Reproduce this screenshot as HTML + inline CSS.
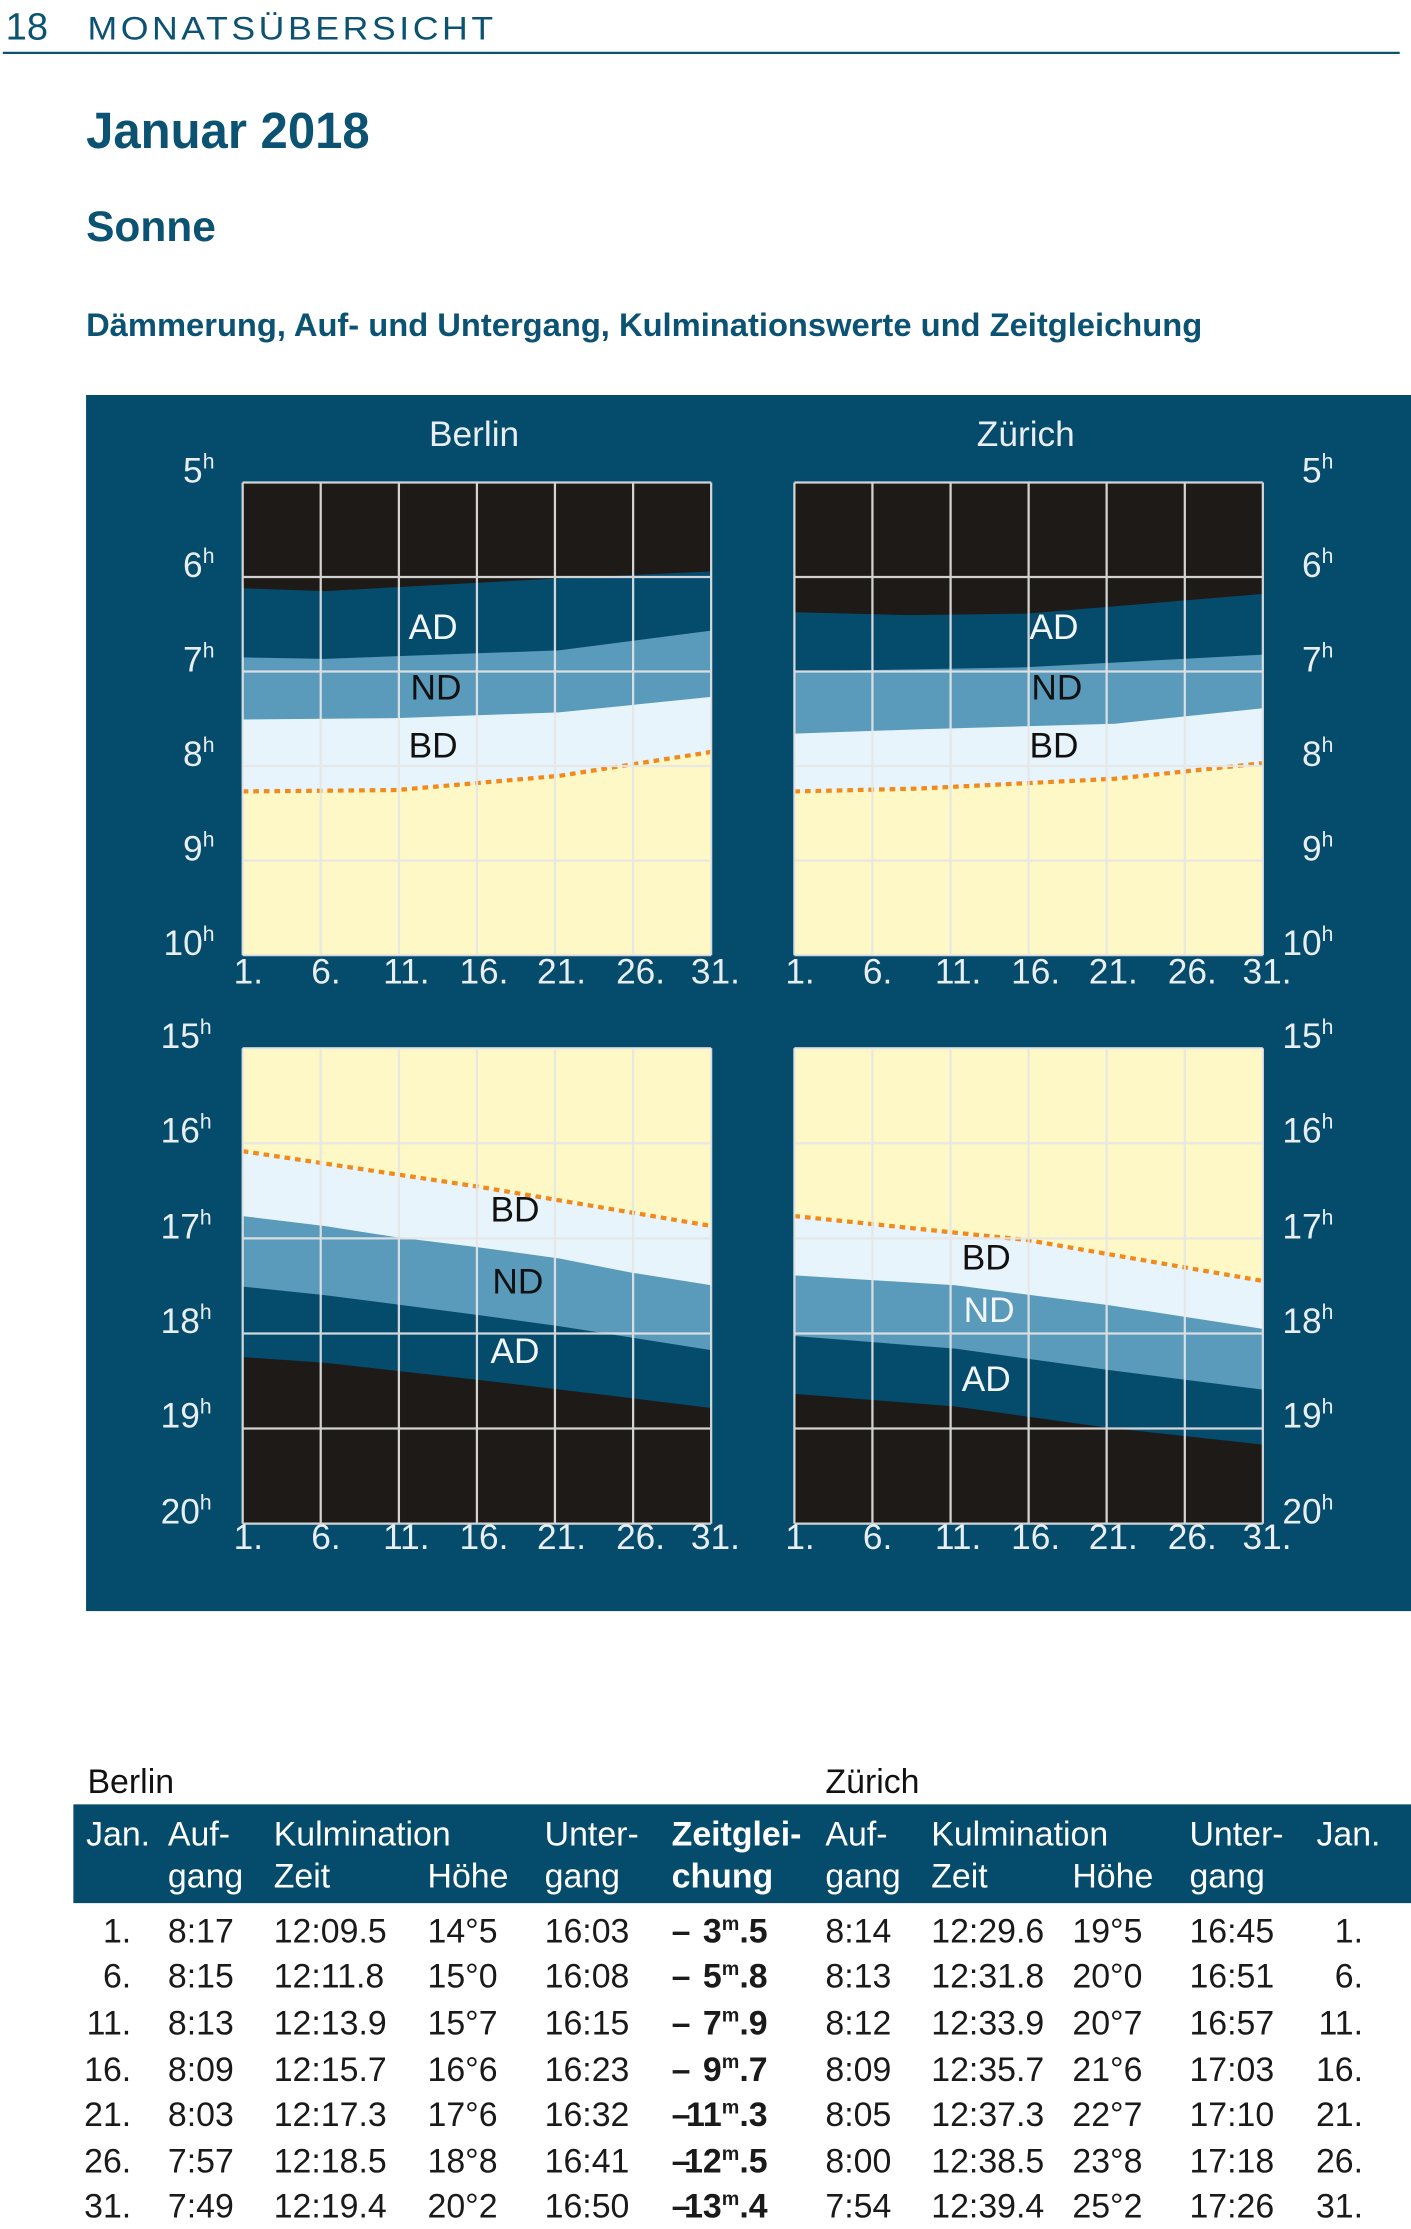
<!DOCTYPE html>
<html><head><meta charset="utf-8"><style>
html,body{margin:0;padding:0;background:#fff;}
svg{display:block;font-family:"Liberation Sans",sans-serif;}
</style></head><body>
<svg width="1411" height="2229" viewBox="0 0 1000 1580" preserveAspectRatio="none" xmlns="http://www.w3.org/2000/svg">
<!-- header -->
<text x="4" y="28" font-size="27" fill="#0b5273">18</text>
<text x="62" y="28" font-size="23" fill="#0b5273" letter-spacing="2.3" textLength="290" lengthAdjust="spacingAndGlyphs">MONATSÜBERSICHT</text>
<line x1="2" y1="37.5" x2="992" y2="37.5" stroke="#0b5273" stroke-width="1.6"/>
<text x="61" y="105" font-size="36" font-weight="bold" fill="#0b5273" textLength="201" lengthAdjust="spacingAndGlyphs">Januar 2018</text>
<text x="61" y="171" font-size="30" font-weight="bold" fill="#0b5273" textLength="92" lengthAdjust="spacingAndGlyphs">Sonne</text>
<text x="61" y="238" font-size="23" font-weight="bold" fill="#0b5273" textLength="791" lengthAdjust="spacingAndGlyphs">Dämmerung, Auf- und Untergang, Kulminationswerte und Zeitgleichung</text>

<!-- panel -->
<rect x="61" y="280" width="939" height="862" fill="#054b6c"/>
<text x="336" y="316" font-size="25" fill="#e8eef2" text-anchor="middle">Berlin</text>
<text x="727" y="316" font-size="25" fill="#e8eef2" text-anchor="middle">Zürich</text>

<!-- Berlin top -->
<rect x="172" y="342" width="332" height="335" fill="#fdf8c6"/>
<polygon fill="#e8f4fb" points="172,342 504,342 504,533 396,550 281,560 172,561"/>
<polygon fill="#5a9abb" points="172,342 504,342 504,494 396,505 281,509 172,510"/>
<polygon fill="#054b6c" points="172,342 504,342 504,447 396,461 230,467 172,466"/>
<polygon fill="#1e1a18" points="172,342 504,342 504,405 396,410 230,419 172,417"/>
<polyline fill="none" stroke="#f08a1c" stroke-width="3" stroke-dasharray="4,3.5" points="172,561 281,560 396,550 504,533"/>
<!-- Zurich top -->
<rect x="563" y="342" width="332" height="335" fill="#fdf8c6"/>
<polygon fill="#e8f4fb" points="563,342 895,342 895,541 790,552 650,559 563,561"/>
<polygon fill="#5a9abb" points="563,342 895,342 895,502 790,513 650,517 563,520"/>
<polygon fill="#054b6c" points="563,342 895,342 895,464 727,473 563,476"/>
<polygon fill="#1e1a18" points="563,342 895,342 895,421 727,435 645,436 563,434"/>
<polyline fill="none" stroke="#f08a1c" stroke-width="3" stroke-dasharray="4,3.5" points="563,561 650,559 790,552 895,541"/>

<!-- Berlin bottom -->
<rect x="172" y="743" width="332" height="337" fill="#1e1a18"/>
<polygon fill="#054b6c" points="172,743 504,743 504,998 447,991 338,978 230,966 172,962"/>
<polygon fill="#5a9abb" points="172,743 504,743 504,957 396,940 338,932 230,918 172,912"/>
<polygon fill="#e8f4fb" points="172,743 504,743 504,911 447,902 396,892 338,884 281,877 230,869 172,862"/>
<polygon fill="#fdf8c6" points="172,743 504,743 504,869 338,841 172,816"/>
<polyline fill="none" stroke="#f08a1c" stroke-width="3" stroke-dasharray="4,3.5" points="172,816 338,841 504,869"/>
<!-- Zurich bottom -->
<rect x="563" y="743" width="332" height="337" fill="#1e1a18"/>
<polygon fill="#054b6c" points="563,743 895,743 895,1024 785,1012 677,997 563,988"/>
<polygon fill="#5a9abb" points="563,743 895,743 895,985 785,971 677,956 563,947"/>
<polygon fill="#e8f4fb" points="563,743 895,743 895,942 785,925 677,911 563,904"/>
<polygon fill="#fdf8c6" points="563,743 895,743 895,908 728,879 563,862"/>
<polyline fill="none" stroke="#f08a1c" stroke-width="3" stroke-dasharray="4,3.5" points="563,862 728,879 895,908"/>

<!-- grids -->
<g stroke="#e6e6e6" stroke-width="1.6" fill="none" opacity="0.9">
<path d="M172,342V677M227.3,342V677M282.7,342V677M338,342V677M393.3,342V677M448.7,342V677M504,342V677"/>
<path d="M563,342V677M618.3,342V677M673.7,342V677M729,342V677M784.3,342V677M839.7,342V677M895,342V677"/>
<path d="M172,342H504M172,409H504M172,476H504M172,543H504M172,610H504M172,677H504"/>
<path d="M563,342H895M563,409H895M563,476H895M563,543H895M563,610H895M563,677H895"/>
<path d="M172,743V1080M227.3,743V1080M282.7,743V1080M338,743V1080M393.3,743V1080M448.7,743V1080M504,743V1080"/>
<path d="M563,743V1080M618.3,743V1080M673.7,743V1080M729,743V1080M784.3,743V1080M839.7,743V1080M895,743V1080"/>
<path d="M172,743H504M172,810.4H504M172,877.8H504M172,945.2H504M172,1012.6H504M172,1080H504"/>
<path d="M563,743H895M563,810.4H895M563,877.8H895M563,945.2H895M563,1012.6H895M563,1080H895"/>
</g>

<!-- band labels -->
<g font-size="25">
<text x="307" y="453" fill="#f2f6f8" text-anchor="middle">AD</text>
<text x="309" y="496" fill="#111" text-anchor="middle">ND</text>
<text x="307" y="537" fill="#111" text-anchor="middle">BD</text>
<text x="747" y="453" fill="#f2f6f8" text-anchor="middle">AD</text>
<text x="749" y="496" fill="#111" text-anchor="middle">ND</text>
<text x="747" y="537" fill="#111" text-anchor="middle">BD</text>
<text x="365" y="866" fill="#111" text-anchor="middle">BD</text>
<text x="367" y="917" fill="#111" text-anchor="middle">ND</text>
<text x="365" y="966" fill="#f2f6f8" text-anchor="middle">AD</text>
<text x="699" y="900" fill="#111" text-anchor="middle">BD</text>
<text x="701" y="937" fill="#f2f6f8" text-anchor="middle">ND</text>
<text x="699" y="986" fill="#f2f6f8" text-anchor="middle">AD</text>
</g>

<!-- hour labels -->
<g font-size="25" fill="#e8eef2">
<text x="152" y="342" text-anchor="end">5<tspan font-size="15" dy="-10">h</tspan></text>
<text x="152" y="409" text-anchor="end">6<tspan font-size="15" dy="-10">h</tspan></text>
<text x="152" y="476" text-anchor="end">7<tspan font-size="15" dy="-10">h</tspan></text>
<text x="152" y="543" text-anchor="end">8<tspan font-size="15" dy="-10">h</tspan></text>
<text x="152" y="610" text-anchor="end">9<tspan font-size="15" dy="-10">h</tspan></text>
<text x="152" y="677" text-anchor="end">10<tspan font-size="15" dy="-10">h</tspan></text>
<text x="945" y="342" text-anchor="end">5<tspan font-size="15" dy="-10">h</tspan></text>
<text x="945" y="409" text-anchor="end">6<tspan font-size="15" dy="-10">h</tspan></text>
<text x="945" y="476" text-anchor="end">7<tspan font-size="15" dy="-10">h</tspan></text>
<text x="945" y="543" text-anchor="end">8<tspan font-size="15" dy="-10">h</tspan></text>
<text x="945" y="610" text-anchor="end">9<tspan font-size="15" dy="-10">h</tspan></text>
<text x="945" y="677" text-anchor="end">10<tspan font-size="15" dy="-10">h</tspan></text>
<text x="150" y="743" text-anchor="end">15<tspan font-size="15" dy="-10">h</tspan></text>
<text x="150" y="810" text-anchor="end">16<tspan font-size="15" dy="-10">h</tspan></text>
<text x="150" y="878" text-anchor="end">17<tspan font-size="15" dy="-10">h</tspan></text>
<text x="150" y="945" text-anchor="end">18<tspan font-size="15" dy="-10">h</tspan></text>
<text x="150" y="1012" text-anchor="end">19<tspan font-size="15" dy="-10">h</tspan></text>
<text x="150" y="1080" text-anchor="end">20<tspan font-size="15" dy="-10">h</tspan></text>
<text x="945" y="743" text-anchor="end">15<tspan font-size="15" dy="-10">h</tspan></text>
<text x="945" y="810" text-anchor="end">16<tspan font-size="15" dy="-10">h</tspan></text>
<text x="945" y="878" text-anchor="end">17<tspan font-size="15" dy="-10">h</tspan></text>
<text x="945" y="945" text-anchor="end">18<tspan font-size="15" dy="-10">h</tspan></text>
<text x="945" y="1012" text-anchor="end">19<tspan font-size="15" dy="-10">h</tspan></text>
<text x="945" y="1080" text-anchor="end">20<tspan font-size="15" dy="-10">h</tspan></text>
</g>

<!-- day labels -->
<g font-size="25" fill="#e8eef2" text-anchor="middle">
<text x="176" y="697">1.</text><text x="231" y="697">6.</text><text x="288" y="697">11.</text><text x="343" y="697">16.</text><text x="398" y="697">21.</text><text x="454" y="697">26.</text><text x="507" y="697">31.</text>
<text x="567" y="697">1.</text><text x="622" y="697">6.</text><text x="679" y="697">11.</text><text x="734" y="697">16.</text><text x="789" y="697">21.</text><text x="845" y="697">26.</text><text x="898" y="697">31.</text>
<text x="176" y="1098">1.</text><text x="231" y="1098">6.</text><text x="288" y="1098">11.</text><text x="343" y="1098">16.</text><text x="398" y="1098">21.</text><text x="454" y="1098">26.</text><text x="507" y="1098">31.</text>
<text x="567" y="1098">1.</text><text x="622" y="1098">6.</text><text x="679" y="1098">11.</text><text x="734" y="1098">16.</text><text x="789" y="1098">21.</text><text x="845" y="1098">26.</text><text x="898" y="1098">31.</text>
</g>

<!-- table -->
<g transform="translate(0,9)">
<text x="62" y="1262" font-size="24" fill="#111">Berlin</text>
<text x="585" y="1262" font-size="24" fill="#111">Zürich</text>
<rect x="52" y="1270" width="948" height="70" fill="#054b6c"/>
<g font-size="24" fill="#fff">
<text x="61" y="1299">Jan.</text>
<text x="119" y="1299">Auf-</text><text x="119" y="1329">gang</text>
<text x="194" y="1299">Kulmination</text><text x="194" y="1329">Zeit</text><text x="303" y="1329">Höhe</text>
<text x="386" y="1299">Unter-</text><text x="386" y="1329">gang</text>
<text x="476" y="1299" font-weight="bold">Zeitglei-</text><text x="476" y="1329" font-weight="bold">chung</text>
<text x="585" y="1299">Auf-</text><text x="585" y="1329">gang</text>
<text x="660" y="1299">Kulmination</text><text x="660" y="1329">Zeit</text><text x="760" y="1329">Höhe</text>
<text x="843" y="1299">Unter-</text><text x="843" y="1329">gang</text>
<text x="933" y="1299">Jan.</text>
</g>
<g font-size="24" fill="#1a1a1a">
<text x="93" y="1368" text-anchor="end">1.</text><text x="119" y="1368">8:17</text><text x="194" y="1368">12:09.5</text><text x="303" y="1368">14°5</text><text x="386" y="1368">16:03</text>
<text x="476" y="1368" font-weight="bold">–</text><text x="544" y="1368" text-anchor="end" font-weight="bold">3<tspan font-size="14" dy="-9">m</tspan><tspan dy="9">.5</tspan></text>
<text x="585" y="1368">8:14</text><text x="660" y="1368">12:29.6</text><text x="760" y="1368">19°5</text><text x="843" y="1368">16:45</text><text x="966" y="1368" text-anchor="end">1.</text>

<text x="93" y="1400" text-anchor="end">6.</text><text x="119" y="1400">8:15</text><text x="194" y="1400">12:11.8</text><text x="303" y="1400">15°0</text><text x="386" y="1400">16:08</text>
<text x="476" y="1400" font-weight="bold">–</text><text x="544" y="1400" text-anchor="end" font-weight="bold">5<tspan font-size="14" dy="-9">m</tspan><tspan dy="9">.8</tspan></text>
<text x="585" y="1400">8:13</text><text x="660" y="1400">12:31.8</text><text x="760" y="1400">20°0</text><text x="843" y="1400">16:51</text><text x="966" y="1400" text-anchor="end">6.</text>

<text x="93" y="1433" text-anchor="end">11.</text><text x="119" y="1433">8:13</text><text x="194" y="1433">12:13.9</text><text x="303" y="1433">15°7</text><text x="386" y="1433">16:15</text>
<text x="476" y="1433" font-weight="bold">–</text><text x="544" y="1433" text-anchor="end" font-weight="bold">7<tspan font-size="14" dy="-9">m</tspan><tspan dy="9">.9</tspan></text>
<text x="585" y="1433">8:12</text><text x="660" y="1433">12:33.9</text><text x="760" y="1433">20°7</text><text x="843" y="1433">16:57</text><text x="966" y="1433" text-anchor="end">11.</text>

<text x="93" y="1466" text-anchor="end">16.</text><text x="119" y="1466">8:09</text><text x="194" y="1466">12:15.7</text><text x="303" y="1466">16°6</text><text x="386" y="1466">16:23</text>
<text x="476" y="1466" font-weight="bold">–</text><text x="544" y="1466" text-anchor="end" font-weight="bold">9<tspan font-size="14" dy="-9">m</tspan><tspan dy="9">.7</tspan></text>
<text x="585" y="1466">8:09</text><text x="660" y="1466">12:35.7</text><text x="760" y="1466">21°6</text><text x="843" y="1466">17:03</text><text x="966" y="1466" text-anchor="end">16.</text>

<text x="93" y="1498" text-anchor="end">21.</text><text x="119" y="1498">8:03</text><text x="194" y="1498">12:17.3</text><text x="303" y="1498">17°6</text><text x="386" y="1498">16:32</text>
<text x="476" y="1498" font-weight="bold">–</text><text x="544" y="1498" text-anchor="end" font-weight="bold">11<tspan font-size="14" dy="-9">m</tspan><tspan dy="9">.3</tspan></text>
<text x="585" y="1498">8:05</text><text x="660" y="1498">12:37.3</text><text x="760" y="1498">22°7</text><text x="843" y="1498">17:10</text><text x="966" y="1498" text-anchor="end">21.</text>

<text x="93" y="1531" text-anchor="end">26.</text><text x="119" y="1531">7:57</text><text x="194" y="1531">12:18.5</text><text x="303" y="1531">18°8</text><text x="386" y="1531">16:41</text>
<text x="476" y="1531" font-weight="bold">–</text><text x="544" y="1531" text-anchor="end" font-weight="bold">12<tspan font-size="14" dy="-9">m</tspan><tspan dy="9">.5</tspan></text>
<text x="585" y="1531">8:00</text><text x="660" y="1531">12:38.5</text><text x="760" y="1531">23°8</text><text x="843" y="1531">17:18</text><text x="966" y="1531" text-anchor="end">26.</text>

<text x="93" y="1563" text-anchor="end">31.</text><text x="119" y="1563">7:49</text><text x="194" y="1563">12:19.4</text><text x="303" y="1563">20°2</text><text x="386" y="1563">16:50</text>
<text x="476" y="1563" font-weight="bold">–</text><text x="544" y="1563" text-anchor="end" font-weight="bold">13<tspan font-size="14" dy="-9">m</tspan><tspan dy="9">.4</tspan></text>
<text x="585" y="1563">7:54</text><text x="660" y="1563">12:39.4</text><text x="760" y="1563">25°2</text><text x="843" y="1563">17:26</text><text x="966" y="1563" text-anchor="end">31.</text>
</g>
</g>
</svg>
</body></html>
